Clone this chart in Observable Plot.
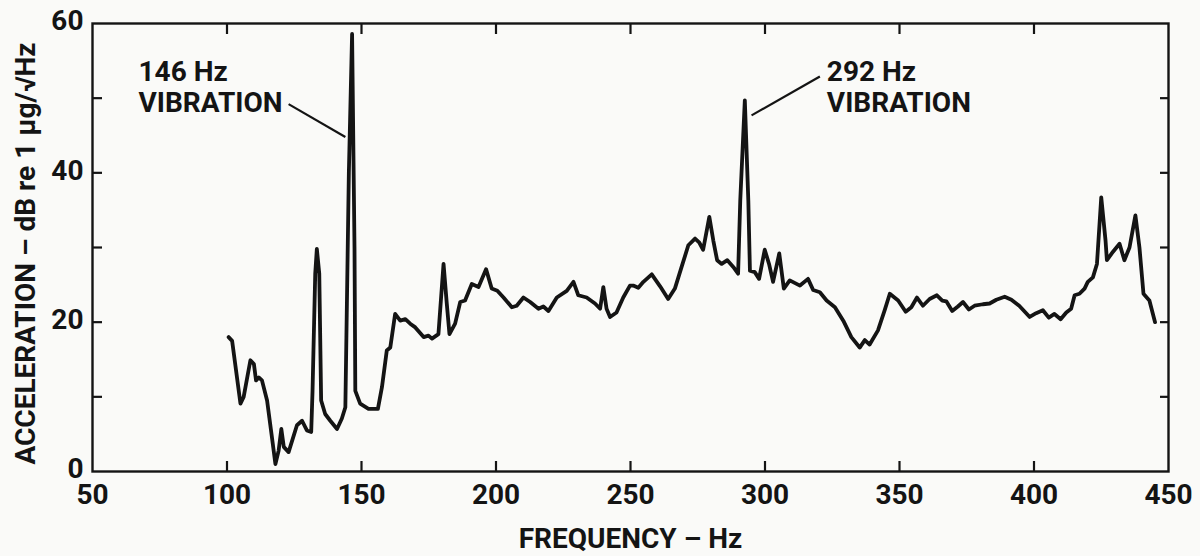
<!DOCTYPE html>
<html><head><meta charset="utf-8">
<script src="https://cdn.jsdelivr.net/npm/d3@7"></script>
<script src="https://cdn.jsdelivr.net/npm/@observablehq/plot@0.6"></script>
<style>
html,body{margin:0;padding:0;background:#fafaf8;}
#chart svg{display:block}
</style></head><body><div id="chart"></div>
<script>
// Acceleration spectrum (dB re 1 µg/√Hz) versus frequency (Hz)
const freqHz = [
  100.6,101.9,105.0,106.2,108.7,110.0,110.8,111.8,113.0,114.9,116.7,118.0,119.2,120.2,121.1,122.9,
  126.0,127.9,129.7,131.3,131.8,132.8,133.4,134.3,135.0,136.5,138.4,140.9,142.7,144.0,145.3,146.5,
  147.4,147.7,149.5,152.6,156.1,157.6,159.4,160.7,162.5,164.4,166.3,168.1,170.0,173.1,174.9,176.2,
  178.6,180.5,181.7,182.7,184.8,186.7,188.5,191.0,193.5,196.3,198.4,200.5,202.8,205.9,207.7,210.2,
  212.7,215.8,217.6,219.5,222.6,226.3,228.8,230.6,233.7,236.8,238.7,239.9,241.1,242.4,244.8,247.3,
  249.8,251.0,252.9,254.8,257.9,261.0,264.0,266.5,269.0,271.5,274.0,275.5,277.0,279.3,280.8,282.2,
  283.9,286.0,288.2,290.0,290.8,292.5,293.8,294.4,296.2,297.8,299.9,301.5,303.0,305.3,307.0,309.2,
  313.0,316.0,317.9,320.4,322.9,326.0,329.1,332.1,335.2,337.1,338.9,342.0,344.5,346.4,349.5,352.3,
  354.4,356.5,358.7,361.2,363.9,365.9,367.4,369.6,371.7,373.6,375.8,377.9,381.0,383.5,386.0,389.1,
  391.6,394.5,398.4,400.8,403.3,405.5,407.6,409.9,412.0,413.8,415.1,416.9,418.8,420.0,421.9,423.4,
  425.0,426.6,427.1,429.3,431.8,433.6,435.5,437.7,439.2,440.7,442.9,445.0
];
const levelDb = [
  18.0,17.5,9.1,10.0,14.9,14.4,12.2,12.6,12.2,9.5,4.6,1.0,2.8,5.7,3.3,2.6,
  6.2,6.8,5.5,5.3,10.8,26.5,29.8,26.5,9.5,7.7,6.8,5.7,7.1,8.6,40.0,58.6,
  30.0,10.8,9.1,8.4,8.4,11.3,16.2,16.6,21.1,20.2,20.4,19.8,19.3,18.0,18.2,17.8,
  18.4,27.8,22.5,18.4,19.8,22.7,22.9,25.1,24.7,27.1,24.5,24.2,23.3,22.0,22.2,23.3,
  22.7,21.8,22.1,21.5,23.3,24.2,25.4,23.6,23.3,22.5,21.8,24.7,21.8,20.7,21.3,23.3,
  24.9,24.9,24.6,25.4,26.4,24.8,23.1,24.5,27.4,30.3,31.2,30.7,29.7,34.1,30.9,28.3,
  27.8,28.3,27.4,26.5,36.3,49.7,36.3,26.9,26.7,25.8,29.7,27.8,25.4,29.2,24.5,25.6,
  24.9,25.8,24.3,24.0,22.9,22.0,20.2,18.0,16.6,17.6,17.0,18.9,21.6,23.8,22.9,21.4,
  22.0,23.3,22.2,23.1,23.6,22.9,22.8,21.5,22.1,22.7,21.7,22.2,22.4,22.5,23.0,23.4,
  23.0,22.2,20.7,21.2,21.6,20.6,21.1,20.4,21.3,21.8,23.6,23.8,24.5,25.4,26.0,27.8,
  36.7,30.9,28.3,29.4,30.5,28.3,30.0,34.3,30.0,23.8,22.9,20.0
];
const xTickLabels = [50,100,150,200,250,300,350,400,450];
const xInnerTicks = [100,150,200,250,300,350,400];
const yTickLabels = [0,20,40,60];
const yInnerTicks = [10,20,30,40,50];
const noteText = ["146 Hz\nVIBRATION", "292 Hz\nVIBRATION"];
const noteFreq = [67.1, 323.0];
const noteDb = [55.3, 55.3];
const leaderFreqFrom = [122.9, 295.0];
const leaderDbFrom = [49.2, 47.7];
const leaderFreqTo = [144.0, 320.4];
const leaderDbTo = [44.8, 52.9];
const xTitle = "FREQUENCY – Hz";
const yTitle = "ACCELERATION – dB re 1 μg/√Hz";

const spectrum = freqHz.map((f, i) => ({f, db: levelDb[i]}));
const notes = noteText.map((t, i) => ({t, f: noteFreq[i], db: noteDb[i]}));
const leaders = leaderFreqFrom.map((f, i) => ({f1: f, d1: leaderDbFrom[i], f2: leaderFreqTo[i], d2: leaderDbTo[i]}));

const ink = "#141414";
const font = "Roboto, 'DejaVu Sans', sans-serif";

const chart = Plot.plot({
  width: 1200, height: 556,
  marginLeft: 92, marginRight: 32, marginTop: 23, marginBottom: 85,
  style: {background: "transparent", color: ink, fontFamily: font},
  x: {domain: [50, 450]},
  y: {domain: [0, 60]},
  marks: [
    Plot.frame({stroke: ink, strokeWidth: 2.4}),
    Plot.axisX({anchor: "bottom", ticks: xInnerTicks, tickSize: -10, tickFormat: () => "", strokeWidth: 2.2, label: null}),
    Plot.axisX({anchor: "top", ticks: xInnerTicks, tickSize: -10, tickFormat: () => "", strokeWidth: 2.2, label: null}),
    Plot.axisY({anchor: "left", ticks: yInnerTicks, tickSize: -10, tickFormat: () => "", strokeWidth: 2.2, label: null}),
    Plot.axisY({anchor: "right", ticks: yInnerTicks, tickSize: -9, tickFormat: () => "", strokeWidth: 2.2, label: null}),
    Plot.axisX({anchor: "bottom", ticks: xTickLabels, tickSize: 0, tickPadding: 13, fontSize: 28, fontWeight: "bold", label: null}),
    Plot.axisY({anchor: "left", ticks: yTickLabels, tickSize: 0, tickPadding: 9, fontSize: 28, fontWeight: "bold", label: null, dy: -2}),
    Plot.line(spectrum, {x: "f", y: "db", stroke: ink, strokeWidth: 3.8, strokeLinejoin: "round", strokeLinecap: "round"}),
    Plot.link(leaders, {x1: "f1", y1: "d1", x2: "f2", y2: "d2", stroke: ink, strokeWidth: 2.2}),
    Plot.text(notes, {x: "f", y: "db", text: "t", textAnchor: "start", lineAnchor: "top", lineHeight: 1.12, fontSize: 28, fontWeight: "bold", fill: ink}),
    Plot.text([xTitle], {text: d => d, frameAnchor: "bottom", textAnchor: "middle", lineAnchor: "bottom", dy: 76, fontSize: 28, fontWeight: "bold", fill: ink}),
    Plot.text([yTitle], {text: d => d, frameAnchor: "left", textAnchor: "middle", lineAnchor: "middle", rotate: -90, dx: -66, dy: 6, fontSize: 28, fontWeight: "bold", fill: ink})
  ]
});
document.getElementById("chart").appendChild(chart);
</script>
</body></html>
